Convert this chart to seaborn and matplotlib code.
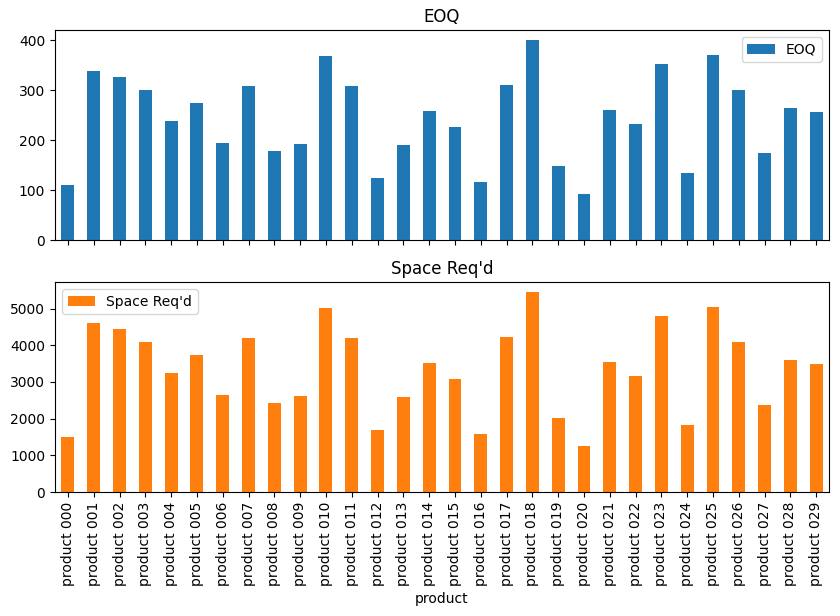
import matplotlib
matplotlib.use("Agg")
import matplotlib.pyplot as plt
import seaborn as sns
import pandas as pd

products = [f"product {i:03d}" for i in range(30)]
eoq = [110, 338, 326, 300, 238, 274, 194, 308, 178, 192,
       368, 308, 124, 190, 258, 226, 116, 310, 400, 148,
       92, 260, 232, 352, 134, 370, 300, 174, 264, 256]
space = [1500, 4600, 4437, 4083, 3240, 3730, 2641, 4192, 2423, 2613,
         5009, 4192, 1688, 2586, 3512, 3076, 1579, 4220, 5445, 2015,
         1252, 3539, 3158, 4791, 1824, 5036, 4083, 2368, 3593, 3485]

df = pd.DataFrame({"product": products, "EOQ": eoq, "Space Req'd": space})

fig, axes = plt.subplots(2, 1, figsize=(8.4, 6.16), dpi=100, sharex=True)
fig.subplots_adjust(left=0.0655, right=0.987, top=0.951, bottom=0.201, hspace=0.2)

sns.barplot(data=df, x="product", y="EOQ", ax=axes[0], color="#1f77b4",
            saturation=1, width=0.5, linewidth=0, label="EOQ")
sns.barplot(data=df, x="product", y="Space Req'd", ax=axes[1], color="#ff7f0e",
            saturation=1, width=0.5, linewidth=0, label="Space Req'd")

axes[0].set_title("EOQ")
axes[1].set_title("Space Req'd")
axes[0].set_ylabel("")
axes[1].set_ylabel("")
axes[0].set_xlabel("")
axes[1].set_xlabel("product")
axes[0].legend(loc="upper right")
axes[1].legend(loc="upper left")
axes[0].tick_params(axis="x", labelbottom=False)
for lab in axes[1].get_xticklabels():
    lab.set_rotation(90)
for ax in axes:
    ax.set_xlim(-0.5, len(products) - 0.5)
    ax.margins(y=0.05)

fig.savefig("out.png", dpi=100)
